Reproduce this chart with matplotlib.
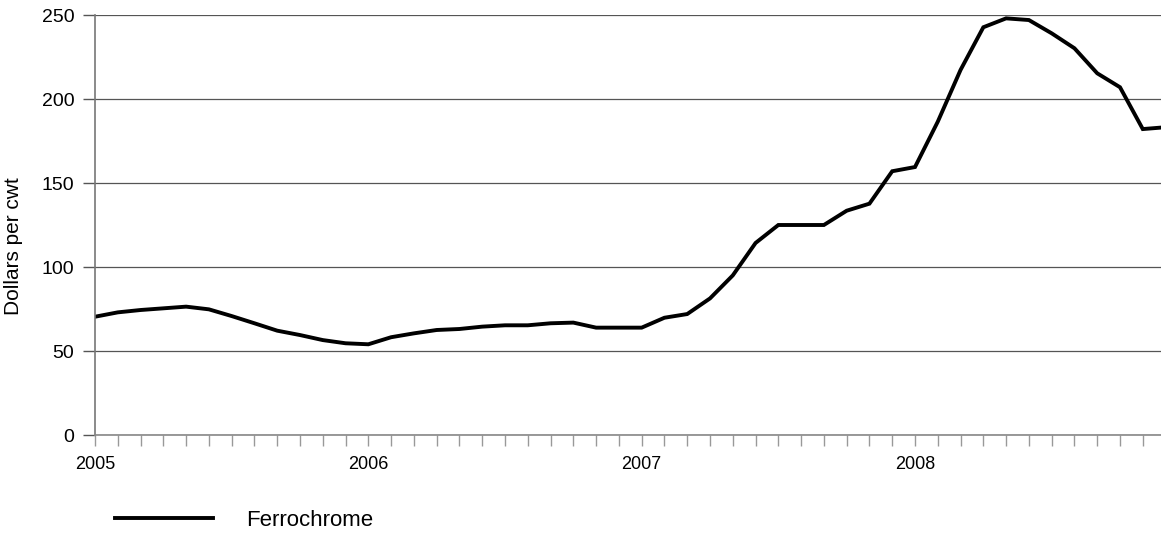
import matplotlib
matplotlib.use("Agg")
import matplotlib.pyplot as plt

plt.rcParams['font.family'] = ['Liberation Sans', 'DejaVu Sans']

# Monthly ferrochrome price, Jan 2005 - Dec 2008 (dollars per cwt)
years = ['2005', '2006', '2007', '2008']
prices = [70.4, 73.0, 74.4, 75.4, 76.4, 74.8, 70.8, 66.5, 62.1, 59.5, 56.5, 54.6,
          54.0, 58.2, 60.5, 62.5, 63.1, 64.5, 65.3, 65.3, 66.5, 66.9, 63.9, 63.9,
          63.9, 69.8, 72.0, 81.3, 95.0, 114.3, 125.0, 125.0, 125.0, 133.5, 137.7, 157.0,
          159.5, 186.5, 217.3, 242.7, 248.0, 247.0, 239.1, 230.2, 215.3, 207.0, 182.1, 183.2]
months = list(range(len(prices)))

fig = plt.figure(figsize=(11.61, 5.33), dpi=100)
ax = fig.add_axes([95 / 1161, 1 - 435 / 533, 1066 / 1161, 420 / 533])

ax.plot(months, prices, color='black', linewidth=2.8, solid_joinstyle='miter',
        label='Ferrochrome')

ax.set_ylim(0, 250)
ax.set_xlim(0, 46.8)
ax.set_yticks(range(0, 251, 50))
ax.yaxis.grid(True, color='#555555', linewidth=0.9)
ax.set_axisbelow(True)

ax.set_xticks(range(0, 47), minor=True)
ax.set_xticks([0, 12, 24, 36])
ax.set_xticklabels(years)
ax.tick_params(axis='x', which='both', length=8, color='#999999', width=1,
               labelsize=13, pad=7)
ax.tick_params(axis='y', length=9, color='#555555', width=1, labelsize=14, pad=6)

for s in ['top', 'right']:
    ax.spines[s].set_visible(False)
ax.spines['left'].set_color('#777777')
ax.spines['bottom'].set_color('#888888')
ax.spines['left'].set_linewidth(1.2)
ax.spines['bottom'].set_linewidth(1.2)

ax.set_ylabel('Dollars per cwt', fontsize=15)
ax.yaxis.set_label_coords(-72 / 1066, 0.45)

fig.legend(loc='center left', bbox_to_anchor=(115 / 1161, 1 - 520 / 533),
           frameon=False, fontsize=16, handlelength=4.4, handletextpad=1.5,
           borderpad=0, borderaxespad=0)

fig.savefig('out.png', dpi=100)
